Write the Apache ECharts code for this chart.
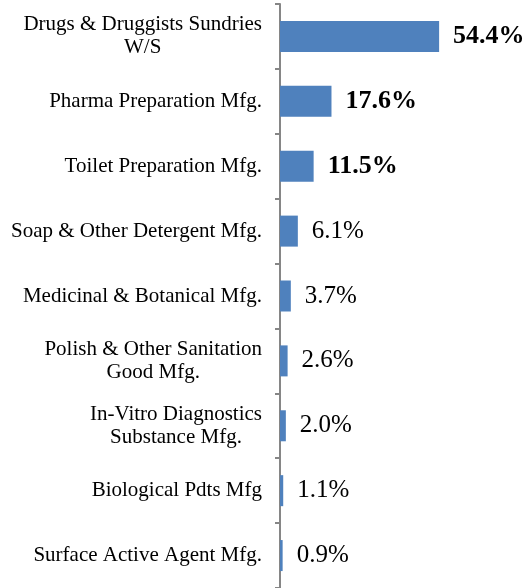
<!DOCTYPE html>
<html>
<head>
<meta charset="utf-8">
<script src="https://cdn.jsdelivr.net/npm/echarts@6/dist/echarts.min.js"></script>
<style>
html,body{margin:0;padding:0;background:#fff;}
#main{width:531px;height:588px;}
</style>
</head>
<body>
<div id="main"></div>
<script>
const categories = [
  "Drugs & Druggists Sundries\nW/S",
  "Pharma Preparation Mfg.",
  "Toilet Preparation Mfg.",
  "Soap & Other Detergent Mfg.",
  "Medicinal & Botanical Mfg.",
  "Polish & Other Sanitation\nGood Mfg.",
  "In-Vitro Diagnostics\nSubstance Mfg.",
  "Biological Pdts Mfg",
  "Surface Active Agent Mfg."
];
const shares = [54.4, 17.6, 11.5, 6.1, 3.7, 2.6, 2.0, 1.1, 0.9];
const boldCount = 3;

const FONT = "'Liberation Serif','Times New Roman',serif";
const chart = echarts.init(document.getElementById('main'), null, {renderer:'canvas'});

const seriesData = shares.map((v, i) => ({
  value: v,
  label: i < boldCount
    ? {fontWeight:'bold', fontSize:26}
    : {fontWeight:'normal', fontSize:25}
}));

chart.setOption({
  animation:false,
  backgroundColor:'#ffffff',
  grid:{left:280, top:4, width:175.5, height:588, containLabel:false},
  xAxis:{type:'value', min:0, max:60, show:false},
  yAxis:{
    type:'category',
    inverse:true,
    data:categories,
    axisLine:{show:true, lineStyle:{color:'#868686', width:2}},
    axisTick:{show:true, length:5, lineStyle:{color:'#868686', width:2}},
    splitLine:{show:false},
    axisLabel:{
      margin:18,
      formatter: v => v.split('\n').map(l => '{c|' + l + '}').join('\n'),
      rich:{c:{align:'center', fontFamily:FONT, fontSize:21, color:'#000', lineHeight:23}}
    }
  },
  series:[{
    type:'bar',
    data:seriesData,
    barWidth:31,
    itemStyle:{color:'#4F81BD'},
    label:{
      show:true,
      position:'right',
      distance:14,
      color:'#000',
      fontFamily:FONT,
      formatter: p => p.value.toFixed(1) + '%'
    }
  }]
});
</script>
</body>
</html>
